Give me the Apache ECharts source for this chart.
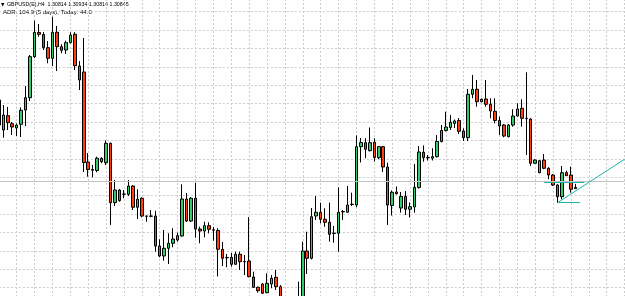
<!DOCTYPE html>
<html>
<head>
<meta charset="utf-8">
<script src="https://cdn.jsdelivr.net/npm/echarts@6/dist/echarts.min.js"></script>
<style>
  html, body { margin: 0; padding: 0; background: #fff; }
  #chart { width: 625px; height: 296px; }
</style>
</head>
<body>
<div id="chart"></div>
<script>
// GBPUSD H4 candles (index 0 is the cut-off bar at the left edge)
var opens = [
  1.32405, 1.32280, 1.32638, 1.32438, 1.32330, 1.32423, 1.32780, 1.33088, 1.34113, 1.34718,
  1.34668, 1.34338, 1.34073, 1.34723, 1.34363, 1.34280, 1.34463, 1.34673, 1.33880, 1.33730,
  1.31480, 1.31293, 1.31268, 1.31573, 1.31463, 1.31948, 1.30463, 1.30780, 1.30680, 1.30673,
  1.30880, 1.30348, 1.30573, 1.30130, 1.30123, 1.30130, 1.29380, 1.29130, 1.29323, 1.29448,
  1.29530, 1.29630, 1.30555, 1.30005, 1.30573, 1.29805, 1.29755, 1.29888, 1.29785, 1.29768,
  1.29298, 1.29093, 1.29098, 1.28923, 1.29173, 1.28993, 1.29005, 1.28605, 1.28348, 1.28430,
  1.28213, 1.28430, 1.28598, 1.28363, 1.28055, 1.27830, 1.27730, 1.27930, 1.28055, 1.29255,
  1.29073, 1.30130, 1.30223, 1.30048, 1.29973, 1.29700, 1.29698, 1.30240, 1.30223, 1.30425,
  1.30405, 1.31863, 1.31963, 1.31763, 1.31973, 1.31588, 1.31863, 1.31355, 1.30393, 1.30730,
  1.30330, 1.30618, 1.30298, 1.30355, 1.30843, 1.31723, 1.31590, 1.31573, 1.31613, 1.31993,
  1.32268, 1.32343, 1.32443, 1.32518, 1.32255, 1.32088, 1.33173, 1.33298, 1.32988, 1.33055,
  1.32923, 1.32748, 1.32518, 1.32405, 1.32113, 1.32405, 1.32630, 1.32823, 1.32573, 1.32555,
  1.31448, 1.31213, 1.31530, 1.31323, 1.31155, 1.30905, 1.30613, 1.31213, 1.31155, 1.30814
];
var closes = [
  1.33030, 1.32655, 1.32463, 1.32355, 1.32405, 1.32773, 1.33088, 1.34113, 1.34723, 1.34673,
  1.34338, 1.34073, 1.34723, 1.34363, 1.34273, 1.34463, 1.34655, 1.33888, 1.33530, 1.31468,
  1.31293, 1.31273, 1.31573, 1.31488, 1.31948, 1.30463, 1.30780, 1.30513, 1.30673, 1.30880,
  1.30348, 1.30548, 1.30130, 1.30123, 1.30130, 1.29380, 1.29130, 1.29323, 1.29448, 1.29555,
  1.29638, 1.30555, 1.30005, 1.30573, 1.29805, 1.29755, 1.29888, 1.29798, 1.29775, 1.29298,
  1.29073, 1.29085, 1.28923, 1.29173, 1.28988, 1.28985, 1.28613, 1.28348, 1.28263, 1.28198,
  1.28448, 1.28573, 1.28363, 1.28055, 1.27830, 1.27730, 1.27930, 1.28055, 1.29255, 1.29073,
  1.30113, 1.30223, 1.30048, 1.29973, 1.29673, 1.29693, 1.30223, 1.30233, 1.30405, 1.30418,
  1.31863, 1.31968, 1.31798, 1.31963, 1.31593, 1.31863, 1.31355, 1.30405, 1.30723, 1.30688,
  1.30618, 1.30300, 1.30363, 1.30848, 1.31730, 1.31588, 1.31585, 1.31613, 1.31993, 1.32268,
  1.32355, 1.32473, 1.32505, 1.32248, 1.32088, 1.33173, 1.33298, 1.32988, 1.33048, 1.32923,
  1.32755, 1.32518, 1.32380, 1.32130, 1.32405, 1.32630, 1.32805, 1.32573, 1.32565, 1.31448,
  1.31530, 1.31513, 1.31323, 1.31155, 1.30905, 1.30613, 1.31213, 1.31138, 1.30798, 1.30845
];
var lows = [
  1.32280, 1.32088, 1.32280, 1.32155, 1.32130, 1.32105, 1.32380, 1.33005, 1.34080, 1.34613,
  1.34280, 1.33948, 1.33880, 1.33755, 1.34198, 1.34180, 1.34448, 1.33780, 1.33280, 1.31230,
  1.31113, 1.31098, 1.31223, 1.31448, 1.31405, 1.29905, 1.30380, 1.30488, 1.30573, 1.30630,
  1.30280, 1.30055, 1.30098, 1.29988, 1.30098, 1.29238, 1.29098, 1.29013, 1.28930, 1.29348,
  1.29488, 1.29613, 1.29980, 1.29980, 1.29588, 1.29448, 1.29598, 1.29698, 1.29513, 1.28618,
  1.28880, 1.28848, 1.28863, 1.28905, 1.28780, 1.28655, 1.28598, 1.28330, 1.28213, 1.28180,
  1.28198, 1.28323, 1.28280, 1.27980, 1.27730, 1.27580, 1.27630, 1.27855, 1.28005, 1.28680,
  1.29043, 1.30030, 1.29948, 1.29863, 1.29488, 1.29463, 1.29238, 1.30030, 1.30213, 1.30380,
  1.30348, 1.31468, 1.31573, 1.31743, 1.31488, 1.31548, 1.31230, 1.29905, 1.30143, 1.30668,
  1.30213, 1.30155, 1.30093, 1.30213, 1.30813, 1.31488, 1.31518, 1.31518, 1.31593, 1.31968,
  1.32243, 1.32280, 1.32330, 1.32180, 1.32005, 1.32005, 1.33073, 1.32863, 1.32968, 1.32863,
  1.32573, 1.32448, 1.32155, 1.32098, 1.32098, 1.32363, 1.32613, 1.32363, 1.31655, 1.31380,
  1.31430, 1.31198, 1.31298, 1.31048, 1.30880, 1.30463, 1.30548, 1.31130, 1.30713, 1.30814
];
var highs = [
  1.33280, 1.32905, 1.32855, 1.32480, 1.32443, 1.32843, 1.33380, 1.34155, 1.35013, 1.34930,
  1.34730, 1.34505, 1.35113, 1.34880, 1.34423, 1.34513, 1.34723, 1.34723, 1.34005, 1.34580,
  1.31705, 1.31405, 1.31613, 1.31598, 1.32018, 1.31963, 1.31030, 1.30805, 1.30780, 1.31030,
  1.30905, 1.30798, 1.30598, 1.30138, 1.30280, 1.30263, 1.29548, 1.29780, 1.29698, 1.29823,
  1.29713, 1.30923, 1.30705, 1.30605, 1.30963, 1.29863, 1.29988, 1.29973, 1.29855, 1.29823,
  1.29480, 1.29180, 1.29205, 1.29238, 1.29238, 1.29155, 1.30105, 1.28738, 1.28363, 1.28455,
  1.28698, 1.28655, 1.28780, 1.28405, 1.28105, 1.27980, 1.28055, 1.28488, 1.29488, 1.29738,
  1.30330, 1.30630, 1.30463, 1.30323, 1.30463, 1.29880, 1.30848, 1.30280, 1.30880, 1.30713,
  1.32143, 1.32080, 1.32073, 1.32343, 1.32073, 1.31880, 1.31875, 1.31463, 1.30768, 1.30868,
  1.30730, 1.30755, 1.30468, 1.31430, 1.31880, 1.31893, 1.31655, 1.31823, 1.32155, 1.32405,
  1.32738, 1.32655, 1.32543, 1.32580, 1.32323, 1.33305, 1.33655, 1.33530, 1.33068, 1.33530,
  1.33073, 1.33073, 1.32613, 1.32430, 1.32430, 1.32798, 1.32948, 1.33048, 1.33723, 1.32573,
  1.31548, 1.31530, 1.31680, 1.31348, 1.31180, 1.30923, 1.31380, 1.31263, 1.31363, 1.30934
];
var barCount = 141;          // bars that fit the window, incl. the empty space on the right
var bidPrice = 1.30845;
var adrText = 'ADR: 104.9 (5 days), Today: 44.0';
var headText = 'GBPUSD(E),H4  1.30814 1.30934 1.30814 1.30845';

// drawn objects: [startBar, startPrice, endBar, endPrice]
var trendLine = [125, 1.30463, 140, 1.31550];
var upperLevel = [122, 1.30973, 131, 1.30973];
var lowerLevel = [125, 1.30463, 130, 1.30463];

var cats = [];
for (var i = 0; i < barCount; i++) cats.push(String(i));

var candles = [];
for (var j = 0; j < opens.length; j++) {
  candles.push([opens[j], closes[j], lows[j], highs[j]]);
}

function seg(a, color) {
  return [
    { coord: [String(a[0]), a[1]], lineStyle: { color: color, width: 1, type: 'solid' } },
    { coord: [String(a[2]), a[3]] }
  ];
}

var gridLine = { color: '#cccccc', type: [2, 2], width: 1 };

var chart = echarts.init(document.getElementById('chart'));
var option = {
  animation: false,
  backgroundColor: '#ffffff',
  grid: { left: -1.17, right: 0.4, top: -5, height: 329.4, outerBoundsMode: 'none' },
  xAxis: {
    type: 'category',
    data: cats,
    boundaryGap: false,
    axisLine: { show: false },
    axisTick: { show: false },
    axisLabel: { show: false },
    splitLine: { show: true, interval: 3, lineStyle: gridLine }
  },
  yAxis: {
    type: 'value',
    min: 1.2742,
    max: 1.35655,
    interval: 0.0046,
    axisLine: { show: false },
    axisTick: { show: false },
    axisLabel: { show: false },
    splitLine: { show: true, lineStyle: gridLine }
  },
  series: [{
    type: 'candlestick',
    data: candles,
    barWidth: 3,
    itemStyle: {
      color: '#2ecc6a',
      color0: '#ff3d0d',
      borderColor: '#000000',
      borderColor0: '#000000',
      borderWidth: 1
    },
    markLine: {
      silent: true,
      symbol: ['none', 'none'],
      label: { show: false },
      data: [
        { yAxis: bidPrice, lineStyle: { color: '#c4c4c4', width: 1, type: 'solid' } },
        seg(trendLine, '#20b2aa'),
        seg(upperLevel, '#20b2aa'),
        seg(lowerLevel, '#20b2aa')
      ]
    }
  }],
  graphic: [
    { type: 'text', left: 1, top: 2.5, style: { text: '\u25BC', fontSize: 4.5, fill: '#000', fontFamily: 'DejaVu Sans' } },
    { type: 'text', left: 7, top: 2, style: { text: headText, fontSize: 5.3, fill: '#000', fontFamily: 'Liberation Sans' } },
    { type: 'text', left: 3, top: 9.3, style: { text: adrText, fontSize: 6, fill: '#000', fontFamily: 'Liberation Sans' } }
  ]
};
chart.setOption(option);
</script>
</body>
</html>
